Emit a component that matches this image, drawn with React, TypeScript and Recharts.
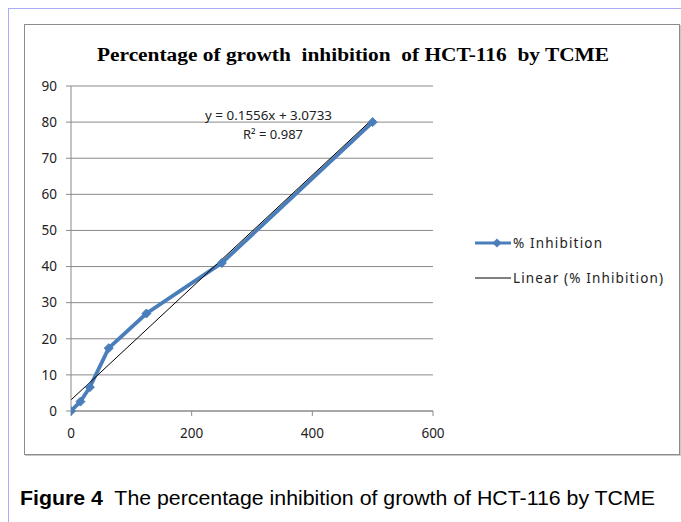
import React from 'react';
import { ComposedChart, Line, XAxis, YAxis, CartesianGrid } from 'recharts';

const concentration = [0, 15.625, 31.25, 62.5, 125, 250, 500];
const inhibition = [0, 2.6, 6.6, 17.4, 27, 41, 80];
const trendX = [0, 500];
const trendY = [3.07, 80.87];
const xTicks = [0, 200, 400, 600];
const yTicks = [0, 10, 20, 30, 40, 50, 60, 70, 80, 90];

const mainData = concentration.map((x, i) => ({ x, y: inhibition[i] }));
const trendData = trendX.map((x, i) => ({ x, t: trendY[i] }));

const BLUE = '#4a7ebb';
const TICK_FONT = "'Noto Sans', sans-serif";

const Diamond = (props: any) => {
  const { cx, cy } = props;
  if (cx == null || cy == null) return null;
  const r = 4.5;
  return (
    <polygon
      points={`${cx},${cy - r} ${cx + r},${cy} ${cx},${cy + r} ${cx - r},${cy}`}
      fill={BLUE}
      stroke={BLUE}
      strokeWidth={1}
    />
  );
};

export default function App() {
  return (
    <div style={{ position: 'absolute', left: 0, top: 0, width: 681, height: 522, background: '#fff', overflow: 'hidden' }}>
      <div style={{ position: 'absolute', left: 8, top: 8, width: 681, height: 1, background: '#a9adf5' }} />
      <div style={{ position: 'absolute', left: 8, top: 8, width: 1, height: 522, background: '#a9adf5' }} />
      <div
        style={{
          position: 'absolute',
          left: 24,
          top: 24,
          width: 654,
          height: 429,
          border: '1px solid #8c8c8c',
          boxShadow: '1px 1px 0 #c8c8c8',
          background: '#fff',
        }}
      >
        <ComposedChart
          width={654}
          height={429}
          margin={{ top: 61, right: 246, bottom: 12, left: 16 }}
        >
          <CartesianGrid horizontal vertical={false} stroke="#8a8a8a" strokeWidth={1} />
          <XAxis
            type="number"
            dataKey="x"
            domain={[0, 600]}
            ticks={xTicks}
            allowDataOverflow
            stroke="#8a8a8a"
            tickSize={5}
            tickMargin={12}
            height={31}
            tick={{ fontFamily: TICK_FONT, fontSize: 13.5, fill: '#222' }}
          />
          <YAxis
            type="number"
            domain={[0, 90]}
            ticks={yTicks}
            stroke="#8a8a8a"
            tickSize={5}
            tickMargin={9}
            width={30}
            tick={{ fontFamily: TICK_FONT, fontSize: 13.5, fill: '#222' }}
          />
          <Line
            data={mainData}
            dataKey="y"
            stroke={BLUE}
            strokeWidth={3.8}
            dot={<Diamond />}
            activeDot={false}
            isAnimationActive={false}
            legendType="none"
          />
          <Line
            data={trendData}
            dataKey="t"
            stroke="#000"
            strokeWidth={1}
            dot={false}
            activeDot={false}
            isAnimationActive={false}
            legendType="none"
          />
        </ComposedChart>
      </div>
      <svg style={{ position: 'absolute', left: 0, top: 0 }} width={681} height={522}>
        <text
          x={97}
          y={61}
          textLength={512}
          lengthAdjust="spacingAndGlyphs"
          fontFamily="'Liberation Serif', serif"
          fontWeight="bold"
          fontSize={18}
          fill="#000"
          style={{ whiteSpace: 'pre' }}
        >
          Percentage of growth  inhibition  of HCT-116  by TCME
        </text>
        <text x={205} y={120} textLength={127} lengthAdjust="spacingAndGlyphs" fontFamily={TICK_FONT} fontSize={13} fill="#222">
          y = 0.1556x + 3.0733
        </text>
        <text x={243} y={139} textLength={60} lengthAdjust="spacingAndGlyphs" fontFamily={TICK_FONT} fontSize={13} fill="#222">
          R² = 0.987
        </text>
        <g>
          <line x1={475} y1={243} x2={511} y2={243} stroke={BLUE} strokeWidth={3} />
          <polygon points="497,238.5 501.5,243 497,247.5 492.5,243" fill={BLUE} />
          <text x={513} y={248} textLength={89} lengthAdjust="spacing" fontFamily={TICK_FONT} fontSize={13.5} fill="#222">
            % Inhibition
          </text>
          <line x1={475} y1={278} x2={511} y2={278} stroke="#000" strokeWidth={1} />
          <text x={513} y={283} textLength={150} lengthAdjust="spacing" fontFamily={TICK_FONT} fontSize={13.5} fill="#222">
            Linear (% Inhibition)
          </text>
        </g>
        <text
          x={20}
          y={505}
          textLength={635}
          lengthAdjust="spacingAndGlyphs"
          fontFamily="'Liberation Sans', Arial, sans-serif"
          fontSize={20.5}
          fill="#000"
          style={{ whiteSpace: 'pre' }}
        >
          <tspan fontWeight="bold">Figure 4</tspan>
          <tspan>  The percentage inhibition of growth of HCT-116 by TCME</tspan>
        </text>
      </svg>
    </div>
  );
}
